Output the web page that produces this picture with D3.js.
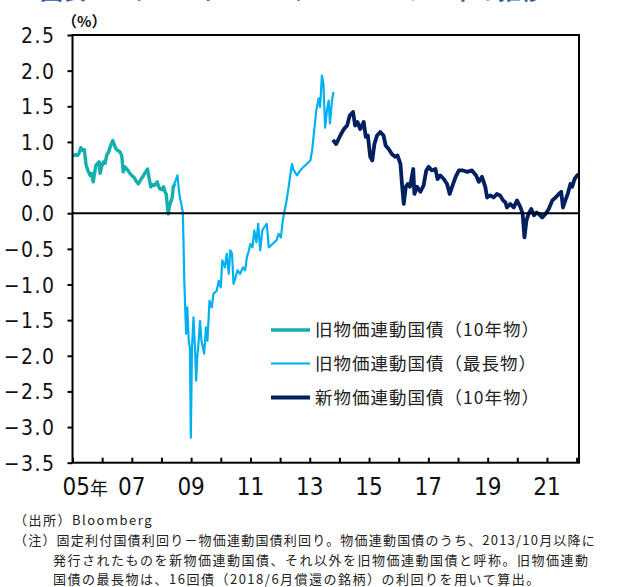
<!DOCTYPE html>
<html><head><meta charset="utf-8">
<script src="https://cdn.jsdelivr.net/npm/d3@7"></script>
<style>
html,body{margin:0;padding:0;background:#fff;overflow:hidden}
svg{display:block}
</style></head>
<body>
<script>
// ---- data (decimal year, spread %) ----
const seriesNames = ["旧物価連動国債（10年物）", "旧物価連動国債（最長物）", "新物価連動国債（10年物）"];
const seriesColors = ["#12AFAD", "#00B0F0", "#002060"];
const seriesWidths = [3.4, 2.2, 3.8];

const oldTenYear = [[2005.00,0.80],[2005.08,0.82],[2005.17,0.81],[2005.22,0.84],[2005.28,0.92],[2005.35,0.88],[2005.40,0.89],[2005.46,0.67],[2005.52,0.60],[2005.59,0.53],[2005.64,0.56],[2005.70,0.44],[2005.75,0.58],[2005.79,0.67],[2005.85,0.70],[2005.90,0.72],[2005.93,0.56],[2005.98,0.65],[2006.04,0.72],[2006.10,0.70],[2006.15,0.81],[2006.22,0.86],[2006.27,0.93],[2006.36,1.02],[2006.42,0.95],[2006.47,0.90],[2006.53,0.88],[2006.60,0.86],[2006.66,0.81],[2006.71,0.58],[2006.77,0.65],[2006.83,0.62],[2006.90,0.58],[2006.95,0.55],[2007.00,0.53],[2007.08,0.50],[2007.15,0.45],[2007.22,0.41],[2007.30,0.47],[2007.37,0.51],[2007.45,0.57],[2007.53,0.62],[2007.58,0.50],[2007.64,0.37],[2007.70,0.40],[2007.76,0.39],[2007.82,0.42],[2007.86,0.44],[2007.90,0.38],[2007.95,0.34],[2008.02,0.33],[2008.07,0.37],[2008.12,0.30],[2008.16,0.27],[2008.20,0.10],[2008.23,-0.01],[2008.26,0.08],[2008.29,0.13],[2008.33,0.18],[2008.36,0.22],[2008.40,0.37],[2008.45,0.41]];

const oldLongest = [[2008.40,0.37],[2008.47,0.45],[2008.54,0.53],[2008.58,0.35],[2008.62,0.22],[2008.66,0.15],[2008.70,0.05],[2008.72,0.02],[2008.74,-0.34],[2008.77,-0.95],[2008.80,-1.32],[2008.83,-1.69],[2008.87,-1.32],[2008.92,-1.79],[2008.96,-1.90],[2008.99,-3.15],[2009.03,-1.88],[2009.08,-1.46],[2009.13,-1.90],[2009.17,-2.35],[2009.21,-2.00],[2009.24,-1.88],[2009.30,-1.51],[2009.35,-1.79],[2009.44,-1.97],[2009.50,-1.60],[2009.55,-1.79],[2009.62,-1.23],[2009.70,-1.32],[2009.75,-1.13],[2009.86,-1.09],[2009.93,-0.95],[2010.00,-1.04],[2010.05,-0.66],[2010.14,-0.76],[2010.20,-0.57],[2010.27,-0.85],[2010.32,-0.52],[2010.38,-0.57],[2010.43,-0.99],[2010.50,-0.90],[2010.56,-0.80],[2010.65,-0.85],[2010.75,-0.76],[2010.82,-0.80],[2010.88,-0.62],[2010.95,-0.52],[2011.00,-0.43],[2011.07,-0.48],[2011.13,-0.24],[2011.20,-0.41],[2011.26,-0.15],[2011.33,-0.52],[2011.40,-0.24],[2011.46,-0.20],[2011.55,-0.15],[2011.62,-0.48],[2011.70,-0.45],[2011.80,-0.41],[2011.88,-0.38],[2011.95,-0.29],[2012.03,-0.34],[2012.09,-0.10],[2012.15,0.03],[2012.22,0.18],[2012.29,0.37],[2012.35,0.55],[2012.40,0.69],[2012.46,0.60],[2012.57,0.53],[2012.68,0.60],[2012.79,0.65],[2012.90,0.69],[2013.02,0.74],[2013.08,0.88],[2013.15,1.16],[2013.22,1.44],[2013.30,1.61],[2013.35,1.49],[2013.41,1.93],[2013.46,1.82],[2013.52,1.20],[2013.58,1.44],[2013.64,1.58],[2013.68,1.26],[2013.75,1.58],[2013.80,1.70]];

const newTenYear = [[2013.78,1.03],[2013.89,0.97],[2014.03,1.09],[2014.15,1.18],[2014.26,1.23],[2014.35,1.37],[2014.46,1.42],[2014.53,1.23],[2014.61,1.28],[2014.70,1.18],[2014.82,1.28],[2014.89,1.07],[2014.96,1.09],[2015.04,0.79],[2015.11,0.74],[2015.18,0.97],[2015.27,1.09],[2015.38,1.14],[2015.49,1.09],[2015.56,0.95],[2015.66,0.90],[2015.77,0.83],[2015.88,0.79],[2015.96,0.81],[2016.06,0.69],[2016.11,0.41],[2016.17,0.13],[2016.24,0.37],[2016.31,0.41],[2016.38,0.37],[2016.49,0.62],[2016.53,0.27],[2016.62,0.37],[2016.73,0.30],[2016.84,0.39],[2016.93,0.60],[2017.01,0.65],[2017.12,0.60],[2017.24,0.62],[2017.31,0.48],[2017.40,0.53],[2017.52,0.48],[2017.63,0.41],[2017.72,0.27],[2017.80,0.37],[2017.92,0.51],[2018.03,0.60],[2018.17,0.60],[2018.31,0.58],[2018.47,0.60],[2018.61,0.53],[2018.70,0.44],[2018.81,0.51],[2018.92,0.37],[2018.98,0.22],[2019.09,0.25],[2019.20,0.22],[2019.31,0.27],[2019.42,0.25],[2019.52,0.18],[2019.60,0.15],[2019.65,0.08],[2019.76,0.13],[2019.88,0.08],[2019.99,0.18],[2020.11,0.08],[2020.18,-0.01],[2020.24,-0.34],[2020.31,-0.10],[2020.38,-0.01],[2020.47,0.06],[2020.56,-0.03],[2020.65,0.01],[2020.72,-0.01],[2020.84,-0.06],[2020.95,-0.01],[2021.06,0.06],[2021.18,0.18],[2021.29,0.22],[2021.40,0.27],[2021.48,0.30],[2021.54,0.08],[2021.62,0.18],[2021.70,0.27],[2021.79,0.41],[2021.85,0.37],[2021.93,0.48],[2022.02,0.53],[2022.07,0.55]];

const yTicks = [2.5,2.0,1.5,1.0,0.5,0.0,-0.5,-1.0,-1.5,-2.0,-2.5,-3.0,-3.5];
const xTickYears = d3.range(2005, 2023);
const xLabelYears = [2005,2007,2009,2011,2013,2015,2017,2019,2021];
const xLabelText = ["05","07","09","11","13","15","17","19","21"];
const titleText = "図表４　ブレーク・イーブン・インフレ率の推移";
const notes = [
  "（出所）Bloomberg",
  "（注）固定利付国債利回り－物価連動国債利回り。物価連動国債のうち、2013/10月以降に",
  "発行されたものを新物価連動国債、それ以外を旧物価連動国債と呼称。旧物価連動",
  "国債の最長物は、16回債（2018/6月償還の銘柄）の利回りを用いて算出。"
];

// ---- layout ----
const W = 619, H = 587;
const L = 72.5, R = 579, T = 35, B = 462.7;
const svg = d3.select("body").append("svg").attr("width", W).attr("height", H);
const x = d3.scaleLinear().domain([2005, 2022.08]).range([L, R]);
const y = d3.scaleLinear().domain([-3.5, 2.5]).range([B, T]);

const numFont = "'Liberation Sans Narrow','DejaVu Sans Condensed','Liberation Sans',sans-serif";
const jpFont = "'Noto Sans CJK JP','Noto Sans CJK SC',sans-serif";

// title (mostly cut off at the top edge, as in the reference)
svg.append("text").attr("x", 40).attr("y", -1)
  .attr("font-family", jpFont).attr("font-size", 23).attr("font-weight", "bold")
  .attr("fill", "#2A5CA8").text(titleText);

// y axis
const yAxis = d3.axisLeft(y).tickValues(yTicks).tickSize(5)
  .tickFormat(d => (d < 0 ? "−" : "") + Math.abs(d).toFixed(1));
const gy = svg.append("g").attr("transform", `translate(${L},0)`).call(yAxis);
gy.select(".domain").remove();
gy.selectAll(".tick line").attr("stroke", "#000").attr("stroke-width", 2);
gy.selectAll(".tick text").attr("font-family", numFont).attr("font-size", 21)
  .attr("fill", "#111").attr("x", -17).attr("letter-spacing", 1.5).attr("dy", "0.36em");

// x axis (ticks inward)
const xAxis = d3.axisTop(x).tickValues(xTickYears).tickSize(5).tickFormat("");
const gx = svg.append("g").attr("transform", `translate(0,${B})`).call(xAxis);
gx.select(".domain").remove();
gx.selectAll(".tick line").attr("stroke", "#000").attr("stroke-width", 2);
svg.append("g").selectAll("text").data(xLabelYears).join("text")
  .attr("x", (d, i) => i === 0 ? x(d) - 10 : x(d))
  .attr("y", 495)
  .attr("text-anchor", (d, i) => i === 0 ? "start" : "middle")
  .attr("font-family", numFont).attr("font-size", 24).attr("fill", "#111")
  .each(function(d, i) {
    const t = d3.select(this);
    t.append("tspan").text(xLabelText[i]);
    if (i === 0) t.append("tspan").attr("font-family", jpFont).attr("font-size", 18).text("年");
  });

// unit
svg.append("text").attr("x", 62).attr("y", 27).attr("font-family", jpFont)
  .attr("font-size", 15).attr("font-weight", "bold").attr("fill", "#111").text("（%）");

// lines
const line = d3.line().x(d => x(d[0])).y(d => y(d[1]));
const allSeries = [oldTenYear, oldLongest, newTenYear];
svg.append("clipPath").attr("id", "pc").append("rect")
  .attr("x", L).attr("y", T).attr("width", R - L).attr("height", B - T);
svg.append("g").attr("clip-path", "url(#pc)").selectAll("path").data([0, 2, 1]).join("path")
  .attr("d", i => line(allSeries[i]))
  .attr("fill", "none").attr("stroke", i => seriesColors[i])
  .attr("stroke-width", i => seriesWidths[i]).attr("stroke-linejoin", "round");

// zero line
svg.append("line").attr("x1", L).attr("x2", R).attr("y1", y(0)).attr("y2", y(0))
  .attr("stroke", "#000").attr("stroke-width", 2);

// frame
svg.append("rect").attr("x", L).attr("y", T).attr("width", R - L).attr("height", B - T)
  .attr("fill", "none").attr("stroke", "#000").attr("stroke-width", 2);

// legend
const lg = svg.append("g");
const legY = [330, 363.5, 397.5];
seriesNames.forEach((n, i) => {
  lg.append("line").attr("x1", 271).attr("x2", 310).attr("y1", legY[i]).attr("y2", legY[i])
    .attr("stroke", seriesColors[i]).attr("stroke-width", seriesWidths[i]);
  lg.append("text").attr("x", 315).attr("y", legY[i]).attr("dy", "0.36em")
    .attr("font-family", jpFont).attr("font-size", 17.5).attr("letter-spacing", 1)
    .attr("fill", "#222").text(n);
});

// notes
const noteX = [14, 14, 53, 53];
const noteY = [525, 545, 564.5, 583.5];
const nt = svg.append("g");
notes.forEach((s, i) => {
  nt.append("text").attr("x", noteX[i]).attr("y", noteY[i])
    .attr("font-family", jpFont).attr("font-size", 13).attr("letter-spacing", i === 1 ? 1.2 : 1.5)
    .attr("fill", "#222").text(s);
});
</script>
</body></html>
